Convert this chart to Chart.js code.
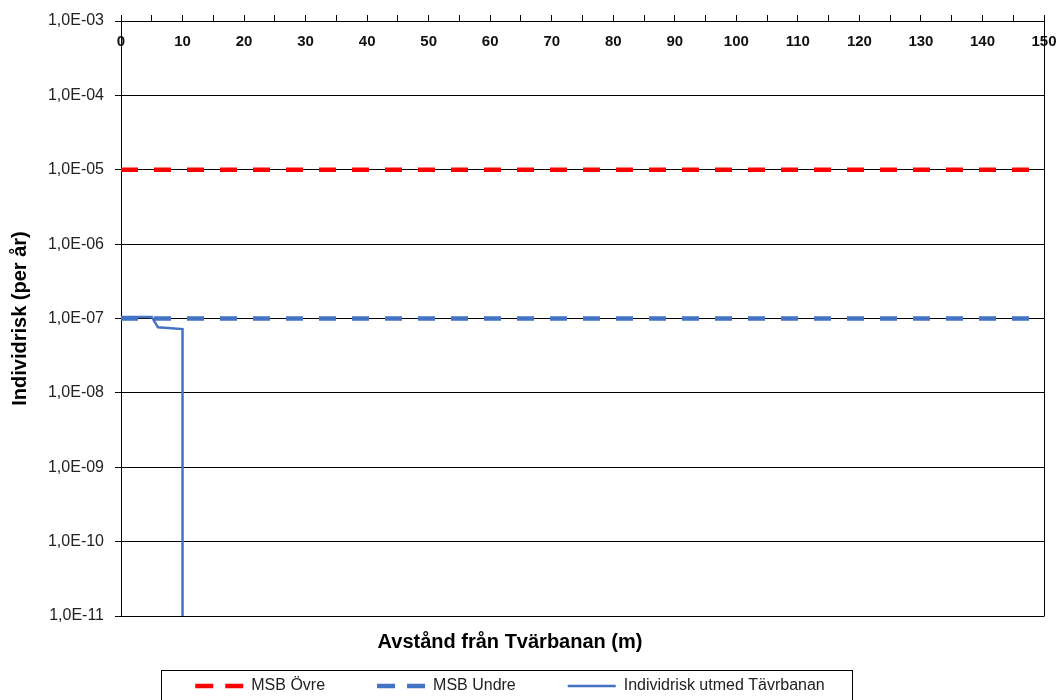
<!DOCTYPE html>
<html>
<head>
<meta charset="utf-8">
<script src="https://cdn.jsdelivr.net/npm/chart.js@4.4.1/dist/chart.umd.min.js"></script>
<style>
html,body{margin:0;padding:0;background:#fff;overflow:hidden;}
#wrap{position:relative;width:1063px;height:704px;}
</style>
</head>
<body>
<div id="wrap"><canvas id="c"></canvas></div>
<script>
// ---- data ----
const seriesNames = ["MSB Övre", "MSB Undre", "Individrisk utmed Tävrbanan"];
const msbDistance = [0, 150];
const msbOvre = [1e-5, 1e-5];
const msbUndre = [1e-7, 1e-7];
const riskDistance = [0, 5, 6, 10, 10];
const individrisk = [1.05e-7, 1.05e-7, 7.6e-8, 7.2e-8, 1e-11];
const xMin = 0, xMax = 150, xTickStep = 5, xLabelStep = 10;
const yTickValues = [1e-11, 1e-10, 1e-9, 1e-8, 1e-7, 1e-6, 1e-5, 1e-4, 1e-3];
const yTickLabels = ["1,0E-11", "1,0E-10", "1,0E-09", "1,0E-08", "1,0E-07", "1,0E-06", "1,0E-05", "1,0E-04", "1,0E-03"];
const xTitle = "Avstånd från Tvärbanan (m)";
const yTitle = "Individrisk (per år)";

const toPoints = (xs, ys) => xs.map((x, i) => ({ x: x, y: ys[i] }));

const framePlugin = {
  id: 'frame',
  beforeDatasetsDraw(chart) {
    const { ctx, chartArea: a } = chart;
    ctx.save();
    ctx.strokeStyle = '#000';
    ctx.lineWidth = 1;
    ctx.beginPath();
    const xr = Math.round(a.right) + 0.5;
    ctx.moveTo(xr, a.top);
    ctx.lineTo(xr, a.bottom + 0.5);
    ctx.stroke();
    ctx.restore();
  },
  afterDraw(chart) {
    const lg = chart.legend;
    if (!lg || !lg.legendHitBoxes || !lg.legendHitBoxes.length) return;
    const hb = lg.legendHitBoxes;
    const l = Math.min(...hb.map(b => b.left));
    const r = Math.max(...hb.map(b => b.left + b.width));
    const t = hb[0].top;
    const ctx = chart.ctx;
    ctx.save();
    ctx.strokeStyle = '#000';
    ctx.lineWidth = 1;
    ctx.strokeRect(Math.round(l - 34) + 0.5, Math.round(t - 8) + 0.5, Math.round(r - l + 62), 80);
    ctx.restore();
  }
};

new Chart(document.getElementById('c'), {
  type: 'line',
  data: {
    datasets: [
      {
        label: seriesNames[0],
        data: toPoints(msbDistance, msbOvre),
        borderColor: '#FF0000',
        backgroundColor: '#FF0000',
        borderWidth: 4.5,
        borderDash: [17, 16],
        pointRadius: 0,
        tension: 0,
        fill: false
      },
      {
        label: seriesNames[1],
        data: toPoints(msbDistance, msbUndre),
        borderColor: '#4472C4',
        backgroundColor: '#4472C4',
        borderWidth: 4.5,
        borderDash: [17, 16],
        pointRadius: 0,
        tension: 0,
        fill: false
      },
      {
        label: seriesNames[2],
        data: toPoints(riskDistance, individrisk),
        borderColor: '#4472C4',
        backgroundColor: '#4472C4',
        borderWidth: 2.5,
        pointRadius: 0,
        tension: 0,
        fill: false
      }
    ]
  },
  options: {
    responsive: true,
    maintainAspectRatio: false,
    animation: false,
    layout: { autoPadding: false, padding: { left: -24, right: 19, top: 0, bottom: 0 } },
    scales: {
      x: {
        type: 'linear',
        position: 'top',
        min: xMin,
        max: xMax,
        afterFit: (scale) => { scale.height = 21; },
        ticks: {
          stepSize: xTickStep,
          autoSkip: false,
          maxRotation: 0,
          mirror: true,
          padding: 2,
          color: '#111',
          font: { family: 'Liberation Sans, Arial, sans-serif', size: 15, weight: 'bold', lineHeight: 2.47 },
          callback: (v) => (v % xLabelStep === 0 ? String(v) : '')
        },
        grid: { drawOnChartArea: false, drawTicks: true, tickLength: 6, color: '#000', lineWidth: 1 },
        border: { display: true, color: '#000', width: 1 }
      },
      y: {
        type: 'logarithmic',
        position: 'left',
        min: yTickValues[0],
        max: yTickValues[yTickValues.length - 1],
        afterBuildTicks: (scale) => { scale.ticks = yTickValues.map(v => ({ value: v })); },
        afterFit: (scale) => { scale.width = 145; },
        ticks: {
          padding: 11,
          color: '#222',
          font: { family: 'Liberation Sans, Arial, sans-serif', size: 16 },
          callback: (v, i) => yTickLabels[i]
        },
        grid: { color: '#000', lineWidth: 1, tickLength: 6, drawTicks: true },
        border: { display: true, color: '#000', width: 1 },
        title: {
          display: true,
          text: yTitle,
          color: '#000',
          padding: { top: 32, bottom: 0 },
          font: { family: 'Liberation Sans, Arial, sans-serif', size: 20, weight: 'bold' }
        }
      }
    },
    plugins: {
      title: {
        display: true,
        text: xTitle,
        position: 'bottom',
        weight: 500,
        color: '#000',
        padding: { top: 14, bottom: -28 },
        font: { family: 'Liberation Sans, Arial, sans-serif', size: 20, weight: 'bold' }
      },
      legend: {
        display: true,
        position: 'bottom',
        weight: 1000,
        labels: {
          usePointStyle: true,
          pointStyle: 'line',
          pointStyleWidth: 48,
          padding: 52,
          color: '#222',
          font: { family: 'Liberation Sans, Arial, sans-serif', size: 16 },
          generateLabels: (chart) => {
            const items = Chart.defaults.plugins.legend.labels.generateLabels(chart);
            items.forEach(it => {
              const ds = chart.data.datasets[it.datasetIndex];
              it.pointStyle = 'line';
              it.strokeStyle = ds.borderColor;
              it.fillStyle = ds.borderColor;
              it.lineWidth = ds.borderWidth;
              it.lineCap = 'butt';
              it.lineDash = (ds.borderDash && ds.borderDash.length) ? [18, 12] : [];
            });
            return items;
          }
        }
      },
      tooltip: { enabled: false }
    }
  },
  plugins: [framePlugin]
});
</script>
</body>
</html>
